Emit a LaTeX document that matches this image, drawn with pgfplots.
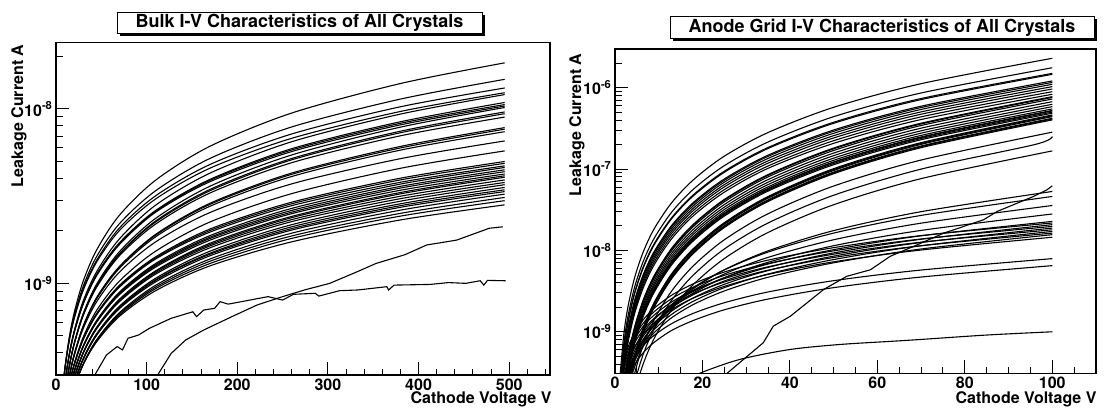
\documentclass[border=0pt]{standalone}
\usepackage{fontspec}
\setmainfont{TeX Gyre Heros}
\usepackage{pgfplots}
\pgfplotsset{compat=1.18}
\newcommand\rootfont{\fontsize{16}{19}\selectfont\bfseries}
\newcommand\titlefont{\fontsize{18}{21}\selectfont\bfseries}
\pgfplotsset{
  rootpad/.style={
    scale only axis,
    axis line style={line width=1.4pt},
    tick align=inside, xtick pos=left, ytick pos=left,
    major tick length=13pt, minor tick length=6.5pt,
    tick style={black, line width=1pt},
    ticklabel style={font=\rootfont},
  },
  iv/.style={black, line width=1.1pt, mark=none},
}
\begin{document}
\begin{tikzpicture}
\path[use as bounding box] (0pt,0pt) rectangle (1105pt,411pt);

% ---------------- bulk I-V ----------------
\begin{axis}[ymode=log, rootpad, at={(56pt,36pt)}, anchor=south west, width=494pt, height=332.3pt,
  xmin=0, xmax=545, ymin=2.98e-10, ymax=2.4e-8,
  xtick={0,100,200,300,400,500}, xticklabels={0,100,200,300,400,500},
  minor xtick={20,40,...,540},
  ytick={1e-9,1e-8}, yticklabels={10\textsuperscript{-9},10\textsuperscript{-8}},
  minor ytick={3e-10,4e-10,5e-10,6e-10,7e-10,8e-10,9e-10,2e-9,3e-9,4e-9,5e-9,6e-9,7e-9,8e-9,9e-9,2e-8}]
\addplot[iv,smooth] coordinates {(5,1.63e-10)(9,2.98e-10)(14,4.69e-10)(20,6.76e-10)(30,1.03e-9)(45,1.56e-9)(70,2.46e-9)(110,3.91e-9)(170,6.12e-9)(260,9.48e-9)(380,1.40e-8)(495,1.84e-8)};
\addplot[iv,smooth] coordinates {(5,1.68e-10)(9,2.98e-10)(14,4.58e-10)(20,6.49e-10)(30,9.62e-10)(45,1.43e-9)(70,2.20e-9)(110,3.40e-9)(170,5.21e-9)(260,7.89e-9)(380,1.14e-8)(495,1.48e-8)};
\addplot[iv,smooth] coordinates {(5,1.71e-10)(9,2.98e-10)(14,4.52e-10)(20,6.34e-10)(30,9.29e-10)(45,1.36e-9)(70,2.08e-9)(110,3.18e-9)(170,4.81e-9)(260,7.19e-9)(380,1.03e-8)(495,1.32e-8)};
\addplot[iv,smooth] coordinates {(5,1.73e-10)(9,2.98e-10)(14,4.49e-10)(20,6.25e-10)(30,9.12e-10)(45,1.33e-9)(70,2.01e-9)(110,3.05e-9)(170,4.58e-9)(260,6.79e-9)(380,9.68e-9)(495,1.24e-8)};
\addplot[iv,smooth] coordinates {(5,1.38e-10)(9,2.45e-10)(14,3.76e-10)(20,5.33e-10)(30,7.93e-10)(45,1.17e-9)(70,1.80e-9)(110,2.81e-9)(170,4.29e-9)(260,6.49e-9)(380,9.35e-9)(495,1.21e-8)};
\addplot[iv,smooth] coordinates {(5,1.42e-10)(9,2.46e-10)(14,3.73e-10)(20,5.24e-10)(30,7.69e-10)(45,1.13e-9)(70,1.71e-9)(110,2.62e-9)(170,3.95e-9)(260,5.92e-9)(380,8.45e-9)(495,1.09e-8)};
\addplot[iv,smooth] coordinates {(5,1.42e-10)(9,2.47e-10)(14,3.73e-10)(20,5.22e-10)(30,7.66e-10)(45,1.12e-9)(70,1.69e-9)(110,2.59e-9)(170,3.90e-9)(260,5.82e-9)(380,8.28e-9)(495,1.06e-8)};
\addplot[iv,smooth] coordinates {(5,1.43e-10)(9,2.47e-10)(14,3.72e-10)(20,5.20e-10)(30,7.60e-10)(45,1.11e-9)(70,1.67e-9)(110,2.56e-9)(170,3.83e-9)(260,5.70e-9)(380,8.11e-9)(495,1.04e-8)};
\addplot[iv,smooth] coordinates {(5,1.18e-10)(9,2.08e-10)(14,3.20e-10)(20,4.52e-10)(30,6.71e-10)(45,9.93e-10)(70,1.52e-9)(110,2.36e-9)(170,3.61e-9)(260,5.45e-9)(380,7.87e-9)(495,1.02e-8)};
\addplot[iv,smooth] coordinates {(5,1.20e-10)(9,2.10e-10)(14,3.19e-10)(20,4.49e-10)(30,6.62e-10)(45,9.75e-10)(70,1.48e-9)(110,2.28e-9)(170,3.46e-9)(260,5.20e-9)(380,7.46e-9)(495,9.62e-9)};
\addplot[iv,smooth] coordinates {(5,1.21e-10)(9,2.10e-10)(14,3.19e-10)(20,4.48e-10)(30,6.59e-10)(45,9.66e-10)(70,1.47e-9)(110,2.25e-9)(170,3.40e-9)(260,5.11e-9)(380,7.31e-9)(495,9.40e-9)};
\addplot[iv,smooth] coordinates {(5,1.22e-10)(9,2.11e-10)(14,3.19e-10)(20,4.46e-10)(30,6.52e-10)(45,9.53e-10)(70,1.44e-9)(110,2.19e-9)(170,3.30e-9)(260,4.92e-9)(380,7.02e-9)(495,8.99e-9)};
\addplot[iv,smooth] coordinates {(5,1.07e-10)(9,1.85e-10)(14,2.79e-10)(20,3.89e-10)(30,5.69e-10)(45,8.32e-10)(70,1.25e-9)(110,1.91e-9)(170,2.88e-9)(260,4.29e-9)(380,6.10e-9)(495,7.82e-9)};
\addplot[iv,smooth] coordinates {(5,1.07e-10)(9,1.85e-10)(14,2.79e-10)(20,3.89e-10)(30,5.66e-10)(45,8.26e-10)(70,1.24e-9)(110,1.89e-9)(170,2.84e-9)(260,4.22e-9)(380,5.98e-9)(495,7.66e-9)};
\addplot[iv,smooth] coordinates {(5,1.09e-10)(9,1.86e-10)(14,2.79e-10)(20,3.87e-10)(30,5.62e-10)(45,8.17e-10)(70,1.22e-9)(110,1.85e-9)(170,2.77e-9)(260,4.10e-9)(380,5.81e-9)(495,7.41e-9)};
\addplot[iv,smooth] coordinates {(5,1.13e-10)(9,1.90e-10)(14,2.80e-10)(20,3.84e-10)(30,5.50e-10)(45,7.87e-10)(70,1.16e-9)(110,1.73e-9)(170,2.55e-9)(260,3.72e-9)(380,5.19e-9)(495,6.56e-9)};
\addplot[iv,smooth] coordinates {(5,1.02e-10)(9,1.71e-10)(14,2.52e-10)(20,3.44e-10)(30,4.91e-10)(45,7.02e-10)(70,1.03e-9)(110,1.53e-9)(170,2.25e-9)(260,3.27e-9)(380,4.57e-9)(495,5.75e-9)};
\addplot[iv,smooth] coordinates {(5,1.07e-10)(9,1.75e-10)(14,2.54e-10)(20,3.41e-10)(30,4.80e-10)(45,6.73e-10)(70,9.75e-10)(110,1.42e-9)(170,2.05e-9)(260,2.92e-9)(380,4.01e-9)(495,5.00e-9)};
\addplot[iv,smooth] coordinates {(5,1.08e-10)(9,1.76e-10)(14,2.54e-10)(20,3.40e-10)(30,4.78e-10)(45,6.68e-10)(70,9.64e-10)(110,1.40e-9)(170,2.01e-9)(260,2.86e-9)(380,3.92e-9)(495,4.88e-9)};
\addplot[iv,smooth] coordinates {(5,1.10e-10)(9,1.77e-10)(14,2.55e-10)(20,3.40e-10)(30,4.75e-10)(45,6.62e-10)(70,9.51e-10)(110,1.38e-9)(170,1.97e-9)(260,2.79e-9)(380,3.80e-9)(495,4.72e-9)};
\addplot[iv,smooth] coordinates {(5,9.68e-11)(9,1.58e-10)(14,2.30e-10)(20,3.11e-10)(30,4.38e-10)(45,6.14e-10)(70,8.91e-10)(110,1.30e-9)(170,1.88e-9)(260,2.69e-9)(380,3.71e-9)(495,4.62e-9)};
\addplot[iv,smooth] coordinates {(5,9.79e-11)(9,1.60e-10)(14,2.31e-10)(20,3.11e-10)(30,4.36e-10)(45,6.10e-10)(70,8.81e-10)(110,1.28e-9)(170,1.84e-9)(260,2.62e-9)(380,3.60e-9)(495,4.48e-9)};
\addplot[iv,smooth] coordinates {(5,9.91e-11)(9,1.61e-10)(14,2.31e-10)(20,3.11e-10)(30,4.34e-10)(45,6.05e-10)(70,8.71e-10)(110,1.26e-9)(170,1.81e-9)(260,2.56e-9)(380,3.52e-9)(495,4.37e-9)};
\addplot[iv,smooth] coordinates {(5,1.00e-10)(9,1.62e-10)(14,2.32e-10)(20,3.10e-10)(30,4.32e-10)(45,6.00e-10)(70,8.61e-10)(110,1.24e-9)(170,1.77e-9)(260,2.51e-9)(380,3.42e-9)(495,4.24e-9)};
\addplot[iv,smooth] coordinates {(5,9.02e-11)(9,1.47e-10)(14,2.13e-10)(20,2.86e-10)(30,4.01e-10)(45,5.61e-10)(70,8.11e-10)(110,1.18e-9)(170,1.70e-9)(260,2.42e-9)(380,3.32e-9)(495,4.14e-9)};
\addplot[iv,smooth] coordinates {(5,9.10e-11)(9,1.48e-10)(14,2.13e-10)(20,2.86e-10)(30,4.00e-10)(45,5.58e-10)(70,8.05e-10)(110,1.17e-9)(170,1.67e-9)(260,2.38e-9)(380,3.26e-9)(495,4.06e-9)};
\addplot[iv,smooth] coordinates {(5,9.25e-11)(9,1.49e-10)(14,2.14e-10)(20,2.86e-10)(30,3.98e-10)(45,5.55e-10)(70,7.94e-10)(110,1.15e-9)(170,1.64e-9)(260,2.32e-9)(380,3.16e-9)(495,3.92e-9)};
\addplot[iv,smooth] coordinates {(5,9.38e-11)(9,1.51e-10)(14,2.15e-10)(20,2.86e-10)(30,3.97e-10)(45,5.50e-10)(70,7.85e-10)(110,1.13e-9)(170,1.60e-9)(260,2.26e-9)(380,3.06e-9)(495,3.79e-9)};
\addplot[iv,smooth] coordinates {(5,8.53e-11)(9,1.38e-10)(14,1.98e-10)(20,2.65e-10)(30,3.70e-10)(45,5.15e-10)(70,7.40e-10)(110,1.07e-9)(170,1.53e-9)(260,2.17e-9)(380,2.96e-9)(495,3.68e-9)};
\addplot[iv,smooth] coordinates {(5,8.69e-11)(9,1.40e-10)(14,2.00e-10)(20,2.66e-10)(30,3.69e-10)(45,5.12e-10)(70,7.31e-10)(110,1.05e-9)(170,1.49e-9)(260,2.11e-9)(380,2.86e-9)(495,3.55e-9)};
\addplot[iv,smooth] coordinates {(5,8.83e-11)(9,1.41e-10)(14,2.00e-10)(20,2.66e-10)(30,3.67e-10)(45,5.08e-10)(70,7.23e-10)(110,1.04e-9)(170,1.47e-9)(260,2.06e-9)(380,2.79e-9)(495,3.44e-9)};
\addplot[iv,smooth] coordinates {(5,8.93e-11)(9,1.42e-10)(14,2.01e-10)(20,2.67e-10)(30,3.66e-10)(45,5.05e-10)(70,7.16e-10)(110,1.02e-9)(170,1.44e-9)(260,2.02e-9)(380,2.73e-9)(495,3.36e-9)};
\addplot[iv,smooth] coordinates {(5,8.22e-11)(9,1.32e-10)(14,1.87e-10)(20,2.49e-10)(30,3.44e-10)(45,4.76e-10)(70,6.79e-10)(110,9.75e-10)(170,1.38e-9)(260,1.94e-9)(380,2.63e-9)(495,3.25e-9)};
\addplot[iv,smooth] coordinates {(5,8.41e-11)(9,1.34e-10)(14,1.89e-10)(20,2.50e-10)(30,3.44e-10)(45,4.73e-10)(70,6.70e-10)(110,9.53e-10)(170,1.34e-9)(260,1.87e-9)(380,2.52e-9)(495,3.11e-9)};
\addplot[iv,smooth] coordinates {(5,8.61e-11)(9,1.36e-10)(14,1.91e-10)(20,2.51e-10)(30,3.43e-10)(45,4.69e-10)(70,6.59e-10)(110,9.33e-10)(170,1.30e-9)(260,1.81e-9)(380,2.43e-9)(495,2.98e-9)};
\addplot[iv,smooth] coordinates {(5,8.87e-11)(9,1.38e-10)(14,1.93e-10)(20,2.52e-10)(30,3.42e-10)(45,4.63e-10)(70,6.47e-10)(110,9.08e-10)(170,1.26e-9)(260,1.73e-9)(380,2.31e-9)(495,2.82e-9)};
% two crystals with a flat, noisy bulk current
\addplot[iv] coordinates {(38,2.7e-10)(55.6,3.88e-10)(67.5,4.34e-10)(73.4,4.15e-10)(79.4,4.84e-10)(91.3,5.06e-10)(103,5.52e-10)(127,6.30e-10)(151,6.87e-10)(155,6.44e-10)(163,7.03e-10)(175,7.19e-10)(181,7.85e-10)(190,7.60e-10)(214,8.02e-10)(234,8.39e-10)(250,8.02e-10)(262,8.65e-10)(286,8.77e-10)(290,8.45e-10)(313,9.08e-10)(333,9.16e-10)(365,9.57e-10)(367,9.16e-10)(373,9.77e-10)(413,9.86e-10)(433,1.01e-9)(452,1.00e-9)(468,1.035e-9)(472,9.77e-10)(476,1.04e-9)(496,1.035e-9)};
\addplot[iv] coordinates {(105,2.6e-10)(127,3.96e-10)(143,4.73e-10)(163,5.40e-10)(194,6.44e-10)(222,7.52e-10)(250,8.39e-10)(274,9.16e-10)(302,1.00e-9)(333,1.17e-9)(353,1.30e-9)(385,1.46e-9)(409,1.66e-9)(442,1.77e-9)(478,2.07e-9)(493,2.11e-9)};
\end{axis}

% ---------------- anode grid I-V ----------------
\begin{axis}[ymode=log, rootpad, at={(615pt,37.7pt)}, anchor=south west, width=481pt, height=324.3pt,
  xmin=0, xmax=110, ymin=3.08e-10, ymax=2.99e-6,
  xtick={0,20,40,60,80,100}, xticklabels={0,20,40,60,80,100},
  minor xtick={5,10,...,110},
  ytick={1e-9,1e-8,1e-7,1e-6},
  yticklabels={10\textsuperscript{-9},10\textsuperscript{-8},10\textsuperscript{-7},10\textsuperscript{-6}},
  minor ytick={4e-10,5e-10,6e-10,7e-10,8e-10,9e-10,2e-9,3e-9,4e-9,5e-9,6e-9,7e-9,8e-9,9e-9,2e-8,3e-8,4e-8,5e-8,6e-8,7e-8,8e-8,9e-8,2e-7,3e-7,4e-7,5e-7,6e-7,7e-7,8e-7,9e-7,2e-6}]
\addplot[iv,smooth] coordinates {(1,2.30e-10)(2,9.18e-10)(3,2.07e-9)(4.5,4.65e-9)(6.5,9.70e-9)(9,1.86e-8)(13,3.88e-8)(18,7.43e-8)(25,1.44e-7)(35,2.81e-7)(50,5.74e-7)(70,1.12e-6)(100,2.30e-6)};
\addplot[iv,smooth] coordinates {(1,1.76e-10)(2,7.03e-10)(3,1.58e-9)(4.5,3.56e-9)(6.5,7.43e-9)(9,1.42e-8)(13,2.97e-8)(18,5.69e-8)(25,1.10e-7)(35,2.15e-7)(50,4.40e-7)(70,8.61e-7)(100,1.76e-6)};
\addplot[iv,smooth] coordinates {(1,1.50e-10)(2,6.01e-10)(3,1.35e-9)(4.5,3.04e-9)(6.5,6.35e-9)(9,1.22e-8)(13,2.54e-8)(18,4.86e-8)(25,9.40e-8)(35,1.84e-7)(50,3.76e-7)(70,7.36e-7)(100,1.50e-6)};
\addplot[iv,smooth] coordinates {(1,1.46e-10)(2,5.83e-10)(3,1.31e-9)(4.5,2.95e-9)(6.5,6.17e-9)(9,1.18e-8)(13,2.47e-8)(18,4.72e-8)(25,9.12e-8)(35,1.79e-7)(50,3.65e-7)(70,7.14e-7)(100,1.46e-6)};
\addplot[iv,smooth] coordinates {(1,1.21e-10)(2,4.83e-10)(3,1.09e-9)(4.5,2.44e-9)(6.5,5.11e-9)(9,9.77e-9)(13,2.04e-8)(18,3.91e-8)(25,7.55e-8)(35,1.48e-7)(50,3.02e-7)(70,5.92e-7)(100,1.21e-6)};
\addplot[iv,smooth] coordinates {(1,1.16e-10)(2,4.66e-10)(3,1.05e-9)(4.5,2.36e-9)(6.5,4.92e-9)(9,9.42e-9)(13,1.97e-8)(18,3.77e-8)(25,7.28e-8)(35,1.43e-7)(50,2.91e-7)(70,5.70e-7)(100,1.16e-6)};
\addplot[iv,smooth] coordinates {(1,1.10e-10)(2,4.41e-10)(3,9.91e-10)(4.5,2.23e-9)(6.5,4.66e-9)(9,8.91e-9)(13,1.86e-8)(18,3.56e-8)(25,6.89e-8)(35,1.35e-7)(50,2.75e-7)(70,5.40e-7)(100,1.10e-6)};
\addplot[iv,smooth] coordinates {(1,1.03e-10)(2,4.11e-10)(3,9.25e-10)(4.5,2.08e-9)(6.5,4.35e-9)(9,8.32e-9)(13,1.74e-8)(18,3.33e-8)(25,6.43e-8)(35,1.26e-7)(50,2.57e-7)(70,5.04e-7)(100,1.03e-6)};
\addplot[iv,smooth] coordinates {(1,9.64e-11)(2,3.85e-10)(3,8.67e-10)(4.5,1.95e-9)(6.5,4.07e-9)(9,7.80e-9)(13,1.63e-8)(18,3.12e-8)(25,6.03e-8)(35,1.18e-7)(50,2.41e-7)(70,4.72e-7)(100,9.64e-7)};
\addplot[iv,smooth] coordinates {(1,8.93e-11)(2,3.57e-10)(3,8.04e-10)(4.5,1.81e-9)(6.5,3.78e-9)(9,7.23e-9)(13,1.51e-8)(18,2.89e-8)(25,5.58e-8)(35,1.09e-7)(50,2.23e-7)(70,4.38e-7)(100,8.93e-7)};
\addplot[iv,smooth] coordinates {(1,8.30e-11)(2,3.32e-10)(3,7.46e-10)(4.5,1.68e-9)(6.5,3.51e-9)(9,6.71e-9)(13,1.40e-8)(18,2.69e-8)(25,5.19e-8)(35,1.02e-7)(50,2.07e-7)(70,4.06e-7)(100,8.30e-7)};
\addplot[iv,smooth] coordinates {(1,4.9e-11)(2,2.10e-10)(3,4.92e-10)(4.5,1.15e-9)(6.5,2.49e-9)(9,4.93e-9)(13,1.07e-8)(18,2.11e-8)(25,4.23e-8)(35,8.55e-8)(50,1.81e-7)(70,3.66e-7)(100,7.76e-7)};
\addplot[iv,smooth] coordinates {(1,4.8e-11)(2,2.05e-10)(3,4.81e-10)(4.5,1.12e-9)(6.5,2.44e-9)(9,4.82e-9)(13,1.04e-8)(18,2.07e-8)(25,4.13e-8)(35,8.36e-8)(50,1.77e-7)(70,3.58e-7)(100,7.59e-7)};
\addplot[iv,smooth] coordinates {(1,4.6e-11)(2,1.96e-10)(3,4.60e-10)(4.5,1.08e-9)(6.5,2.33e-9)(9,4.61e-9)(13,1.00e-8)(18,1.98e-8)(25,3.95e-8)(35,8.00e-8)(50,1.69e-7)(70,3.43e-7)(100,7.26e-7)};
\addplot[iv,smooth] coordinates {(1,4.2e-11)(2,1.82e-10)(3,4.27e-10)(4.5,9.98e-10)(6.5,2.16e-9)(9,4.28e-9)(13,9.27e-9)(18,1.83e-8)(25,3.66e-8)(35,7.41e-8)(50,1.57e-7)(70,3.18e-7)(100,6.73e-7)};
\addplot[iv,smooth] coordinates {(1,3.9e-11)(2,1.69e-10)(3,3.96e-10)(4.5,9.27e-10)(6.5,2.01e-9)(9,3.97e-9)(13,8.61e-9)(18,1.70e-8)(25,3.40e-8)(35,6.89e-8)(50,1.46e-7)(70,2.95e-7)(100,6.25e-7)};
\addplot[iv,smooth] coordinates {(1,3.7e-11)(2,1.58e-10)(3,3.71e-10)(4.5,8.67e-10)(6.5,1.88e-9)(9,3.72e-9)(13,8.05e-9)(18,1.59e-8)(25,3.18e-8)(35,6.44e-8)(50,1.36e-7)(70,2.76e-7)(100,5.85e-7)};
\addplot[iv,smooth] coordinates {(1,3.5e-11)(2,1.48e-10)(3,3.48e-10)(4.5,8.13e-10)(6.5,1.76e-9)(9,3.48e-9)(13,7.55e-9)(18,1.49e-8)(25,2.99e-8)(35,6.04e-8)(50,1.28e-7)(70,2.59e-7)(100,5.48e-7)};
\addplot[iv,smooth] coordinates {(1,3.3e-11)(2,1.42e-10)(3,3.33e-10)(4.5,7.78e-10)(6.5,1.69e-9)(9,3.33e-9)(13,7.23e-9)(18,1.43e-8)(25,2.86e-8)(35,5.78e-8)(50,1.22e-7)(70,2.48e-7)(100,5.25e-7)};
\addplot[iv,smooth] coordinates {(1,3.3e-11)(2,1.40e-10)(3,3.28e-10)(4.5,7.67e-10)(6.5,1.66e-9)(9,3.29e-9)(13,7.13e-9)(18,1.41e-8)(25,2.82e-8)(35,5.70e-8)(50,1.21e-7)(70,2.44e-7)(100,5.18e-7)};
\addplot[iv,smooth] coordinates {(1,3.2e-11)(2,1.36e-10)(3,3.18e-10)(4.5,7.43e-10)(6.5,1.61e-9)(9,3.18e-9)(13,6.90e-9)(18,1.36e-8)(25,2.73e-8)(35,5.52e-8)(50,1.17e-7)(70,2.37e-7)(100,5.01e-7)};
\addplot[iv,smooth] coordinates {(1,3.1e-11)(2,1.31e-10)(3,3.08e-10)(4.5,7.19e-10)(6.5,1.56e-9)(9,3.08e-9)(13,6.68e-9)(18,1.32e-8)(25,2.64e-8)(35,5.35e-8)(50,1.13e-7)(70,2.29e-7)(100,4.85e-7)};
\addplot[iv,smooth] coordinates {(1,1.8e-11)(2,8.45e-11)(3,2.06e-10)(4.5,5.04e-10)(6.5,1.13e-9)(9,2.31e-9)(13,5.20e-9)(18,1.06e-8)(25,2.19e-8)(35,4.59e-8)(50,1.01e-7)(70,2.11e-7)(100,4.62e-7)};
\addplot[iv,smooth] coordinates {(1,1.8e-11)(2,8.26e-11)(3,2.01e-10)(4.5,4.92e-10)(6.5,1.11e-9)(9,2.26e-9)(13,5.08e-9)(18,1.04e-8)(25,2.14e-8)(35,4.49e-8)(50,9.84e-8)(70,2.06e-7)(100,4.52e-7)};
\addplot[iv,smooth] coordinates {(1,1.75e-11)(2,8.05e-11)(3,1.96e-10)(4.5,4.80e-10)(6.5,1.08e-9)(9,2.20e-9)(13,4.95e-9)(18,1.01e-8)(25,2.09e-8)(35,4.38e-8)(50,9.59e-8)(70,2.01e-7)(100,4.41e-7)};
\addplot[iv,smooth] coordinates {(1,1.7e-11)(2,7.69e-11)(3,1.87e-10)(4.5,4.58e-10)(6.5,1.03e-9)(9,2.10e-9)(13,4.73e-9)(18,9.66e-9)(25,2.00e-8)(35,4.18e-8)(50,9.16e-8)(70,1.92e-7)(100,4.21e-7)};
\addplot[iv,smooth] coordinates {(1,1.6e-11)(2,7.53e-11)(3,1.84e-10)(4.5,4.49e-10)(6.5,1.01e-9)(9,2.06e-9)(13,4.63e-9)(18,9.46e-9)(25,1.95e-8)(35,4.09e-8)(50,8.97e-8)(70,1.88e-7)(100,4.12e-7)};
\addplot[iv,smooth] coordinates {(1,1.6e-11)(2,7.35e-11)(3,1.79e-10)(4.5,4.38e-10)(6.5,9.84e-10)(9,2.01e-9)(13,4.52e-9)(18,9.23e-9)(25,1.91e-8)(35,3.99e-8)(50,8.75e-8)(70,1.83e-7)(100,4.02e-7)};
\addplot[iv,smooth] coordinates {(1,1.1e-11)(2,5.19e-11)(3,1.26e-10)(4.5,3.09e-10)(6.5,6.95e-10)(9,1.42e-9)(13,3.19e-9)(18,6.52e-9)(25,1.35e-8)(35,2.82e-8)(50,6.18e-8)(70,1.29e-7)(100,2.84e-7)};
\addplot[iv,smooth] coordinates {(1,8.7e-12)(2,4.00e-11)(3,9.75e-11)(4.5,2.38e-10)(6.5,5.36e-10)(9,1.09e-9)(13,2.46e-9)(18,5.02e-9)(25,1.04e-8)(35,2.17e-8)(50,4.76e-8)(70,9.98e-8)(96,2.00e-7)(100,2.51e-7)};
\addplot[iv,smooth] coordinates {(1,6.7e-12)(2,3.05e-11)(3,7.45e-11)(4.5,1.82e-10)(6.5,4.09e-10)(9,8.36e-10)(13,1.88e-9)(18,3.84e-9)(25,7.93e-9)(35,1.66e-8)(50,3.64e-8)(70,7.62e-8)(100,1.67e-7)};
% lower-current group
\addplot[iv,smooth] coordinates {(1,3.3e-11)(2,1.01e-10)(3,1.94e-10)(4.5,3.71e-10)(6.5,6.68e-10)(9,1.12e-9)(13,2.02e-9)(18,3.40e-9)(25,5.77e-9)(35,9.86e-9)(50,1.75e-8)(70,2.99e-8)(100,5.30e-8)};
\addplot[iv,smooth] coordinates {(1,4.6e-11)(2,1.30e-10)(3,2.39e-10)(4.5,4.39e-10)(6.5,7.62e-10)(9,1.24e-9)(13,2.16e-9)(18,3.51e-9)(25,5.75e-9)(35,9.53e-9)(50,1.63e-8)(70,2.69e-8)(100,4.60e-8)};
\addplot[iv,smooth] coordinates {(1,5.6e-11)(2,1.49e-10)(3,2.63e-10)(4.5,4.63e-10)(6.5,7.76e-10)(9,1.22e-9)(13,2.05e-9)(18,3.23e-9)(25,5.12e-9)(35,8.20e-9)(50,1.35e-8)(70,2.16e-8)(100,3.56e-8)};
\addplot[iv,smooth] coordinates {(1,7.0e-11)(2,1.73e-10)(3,2.93e-10)(4.5,4.97e-10)(6.5,8.02e-10)(9,1.22e-9)(13,1.97e-9)(18,3.01e-9)(25,4.61e-9)(35,7.14e-9)(50,1.14e-8)(70,1.76e-8)(100,2.80e-8)};
\addplot[iv,smooth] coordinates {(1,1.14e-10)(2,2.52e-10)(3,4.03e-10)(4.5,6.41e-10)(6.5,9.79e-10)(9,1.42e-9)(13,2.17e-9)(18,3.15e-9)(25,4.61e-9)(35,6.79e-9)(50,1.02e-8)(70,1.51e-8)(100,2.27e-8)};
\addplot[iv,smooth] coordinates {(1,2.17e-10)(2,4.34e-10)(3,6.50e-10)(4.5,9.75e-10)(6.5,1.41e-9)(9,1.95e-9)(13,2.82e-9)(18,3.90e-9)(25,5.42e-9)(35,7.59e-9)(50,1.08e-8)(70,1.52e-8)(100,2.17e-8)};
\addplot[iv,smooth] coordinates {(1,1.03e-10)(2,2.30e-10)(3,3.66e-10)(4.5,5.83e-10)(6.5,8.91e-10)(9,1.29e-9)(13,1.98e-9)(18,2.87e-9)(25,4.20e-9)(35,6.18e-9)(50,9.31e-9)(70,1.37e-8)(100,2.07e-8)};
\addplot[iv,smooth] coordinates {(1,1.97e-10)(2,3.94e-10)(3,5.92e-10)(4.5,8.87e-10)(6.5,1.28e-9)(9,1.77e-9)(13,2.56e-9)(18,3.55e-9)(25,4.93e-9)(35,6.90e-9)(50,9.86e-9)(70,1.38e-8)(100,1.97e-8)};
\addplot[iv,smooth] coordinates {(1,9.4e-11)(2,2.09e-10)(3,3.34e-10)(4.5,5.32e-10)(6.5,8.13e-10)(9,1.18e-9)(13,1.80e-9)(18,2.62e-9)(25,3.83e-9)(35,5.64e-9)(50,8.49e-9)(70,1.25e-8)(100,1.88e-8)};
\addplot[iv,smooth] coordinates {(1,1.79e-10)(2,3.59e-10)(3,5.38e-10)(4.5,8.07e-10)(6.5,1.17e-9)(9,1.61e-9)(13,2.33e-9)(18,3.23e-9)(25,4.49e-9)(35,6.28e-9)(50,8.97e-9)(70,1.26e-8)(100,1.79e-8)};
\addplot[iv,smooth] coordinates {(1,8.6e-11)(2,1.90e-10)(3,3.03e-10)(4.5,4.83e-10)(6.5,7.38e-10)(9,1.07e-9)(13,1.64e-9)(18,2.38e-9)(25,3.48e-9)(35,5.12e-9)(50,7.71e-9)(70,1.14e-8)(100,1.71e-8)};
\addplot[iv,smooth] coordinates {(1,1.63e-10)(2,3.27e-10)(3,4.90e-10)(4.5,7.35e-10)(6.5,1.06e-9)(9,1.47e-9)(13,2.12e-9)(18,2.94e-9)(25,4.08e-9)(35,5.71e-9)(50,8.17e-9)(70,1.14e-8)(100,1.63e-8)};
\addplot[iv,smooth] coordinates {(1,7.8e-11)(2,1.73e-10)(3,2.77e-10)(4.5,4.41e-10)(6.5,6.73e-10)(9,9.77e-10)(13,1.49e-9)(18,2.17e-9)(25,3.17e-9)(35,4.67e-9)(50,7.03e-9)(70,1.04e-8)(100,1.56e-8)};
\addplot[iv,smooth] coordinates {(1,1.45e-10)(2,2.89e-10)(3,4.34e-10)(4.5,6.50e-10)(6.5,9.40e-10)(9,1.30e-9)(13,1.88e-9)(18,2.60e-9)(25,3.61e-9)(35,5.06e-9)(50,7.23e-9)(70,1.01e-8)(100,1.45e-8)};
\addplot[iv,smooth] coordinates {(1,1.25e-10)(2,2.34e-10)(3,3.37e-10)(4.5,4.85e-10)(6.5,6.76e-10)(9,9.06e-10)(13,1.26e-9)(18,1.69e-9)(25,2.27e-9)(35,3.08e-9)(50,4.24e-9)(70,5.73e-9)(100,7.91e-9)};
\addplot[iv,smooth] coordinates {(1,1.03e-10)(2,1.92e-10)(3,2.76e-10)(4.5,3.98e-10)(6.5,5.55e-10)(9,7.43e-10)(13,1.04e-9)(18,1.38e-9)(25,1.86e-9)(35,2.52e-9)(50,3.48e-9)(70,4.70e-9)(100,6.49e-9)};
% late-onset crystal and lowest-current crystal
\addplot[iv] coordinates {(24,2.6e-10)(33.9,7.31e-10)(36.2,1.17e-9)(40.1,1.55e-9)(47.7,3.30e-9)(53.0,4.80e-9)(58.4,5.77e-9)(62.9,8.43e-9)(69.1,1.17e-8)(75.2,1.63e-8)(84.3,2.38e-8)(87.4,3.01e-8)(95.7,4.60e-8)(98.8,5.56e-8)(100,6.22e-8)};
\addplot[iv,smooth] coordinates {(15,2.3e-10)(19.5,3.1e-10)(28.6,4.57e-10)(40.1,6.05e-10)(51.5,6.97e-10)(62.9,7.6e-10)(69.8,8.02e-10)(85,9.1e-10)(100,9.98e-10)};
\end{axis}

% titles with drop shadow
\fill[black] (120pt,374.5pt) rectangle (485pt,395.5pt);
\node[draw, fill=white, line width=1pt, minimum width=365pt, minimum height=21pt, inner sep=0pt, font=\titlefont] at (299.5pt,388pt) {Bulk I-V Characteristics of All Crystals};
\fill[black] (673pt,369.5pt) rectangle (1097pt,391.5pt);
\node[draw, fill=white, line width=1pt, minimum width=424pt, minimum height=22pt, inner sep=0pt, font=\titlefont] at (882pt,383.5pt) {Anode Grid I-V Characteristics of All Crystals};

% axis titles
\node[font=\rootfont, anchor=base east] at (555pt,7pt) {Cathode Voltage V};
\node[font=\rootfont, anchor=base east] at (1100pt,7pt) {Cathode Voltage V};
\node[font=\rootfont, rotate=90, anchor=base east] at (23pt,370pt) {Leakage Current A};
\node[font=\rootfont, rotate=90, anchor=base east] at (581pt,361pt) {Leakage Current A};
\end{tikzpicture}
\end{document}
